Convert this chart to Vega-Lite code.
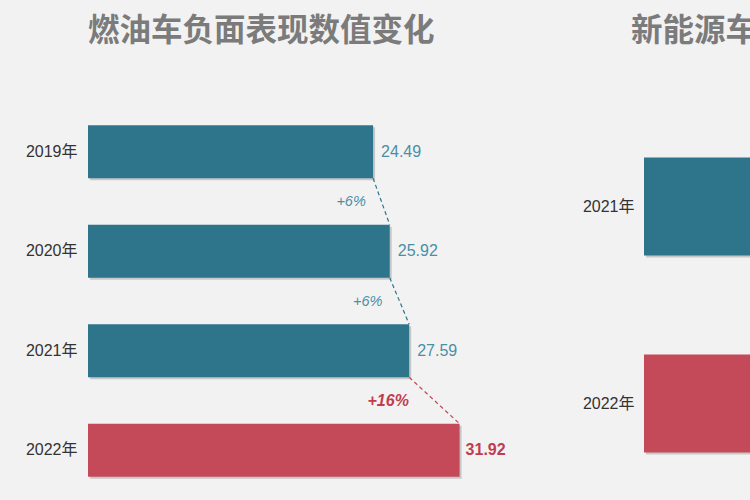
{
  "$schema": "https://vega.github.io/schema/vega-lite/v6.json",
  "background": "#f2f2f2",
  "padding": {"left": 25, "top": 15, "right": -258, "bottom": 0},
  "bounds": "flush",
  "spacing": 156,
  "config": {
    "view": {"stroke": null},
    "font": "Liberation Sans, Noto Sans CJK SC",
    "title": {"font": "Noto Sans CJK SC", "fontSize": 31.5, "fontWeight": "bold", "color": "#7b7b7b", "anchor": "start", "frame": "group", "baseline": "bottom", "offset": 55},
    "axisY": {"domain": false, "ticks": false, "grid": false, "title": null, "labelFontSize": 16, "labelColor": "#333333", "labelPadding": 11, "labelFont": "Liberation Sans, Noto Sans CJK SC"}
  },
  "datasets": {
    "gas": [
      {"year": "2019年", "value": 24.49, "type": "normal"},
      {"year": "2020年", "value": 25.92, "type": "normal"},
      {"year": "2021年", "value": 27.59, "type": "normal"},
      {"year": "2022年", "value": 31.92, "type": "highlight"}
    ],
    "changes": [
      {"from": "2019年", "to": "2020年", "fromValue": 24.49, "toValue": 25.92, "label": "+6%", "type": "normal"},
      {"from": "2020年", "to": "2021年", "fromValue": 25.92, "toValue": 27.59, "label": "+6%", "type": "normal"},
      {"from": "2021年", "to": "2022年", "fromValue": 27.59, "toValue": 31.92, "label": "+16%", "type": "highlight"}
    ],
    "nev": [
      {"year": "2021年", "value": 38.6, "type": "normal"},
      {"year": "2022年", "value": 50.3, "type": "highlight"}
    ]
  },
  "hconcat": [
    {
      "width": 400,
      "height": 398,
      "title": {"text": "燃油车负面表现数值变化"},
      "data": {"name": "gas"},
      "layer": [
        {
          "mark": {"type": "bar", "color": "#666666", "opacity": 0.3, "xOffset": 2, "yOffset": 2},
          "encoding": {
            "y": {"field": "year", "type": "nominal", "scale": {"paddingInner": 0.4673, "paddingOuter": 0.2337}},
            "x": {"field": "value", "type": "quantitative", "scale": {"domain": [0, 34.36], "nice": false}, "axis": null}
          }
        },
        {
          "mark": {"type": "bar"},
          "encoding": {
            "y": {"field": "year", "type": "nominal"},
            "x": {"field": "value", "type": "quantitative"},
            "color": {"field": "type", "type": "nominal", "scale": {"domain": ["normal", "highlight"], "range": ["#2e758c", "#c44a5a"]}, "legend": null}
          }
        },
        {
          "transform": [{"filter": "datum.type === 'normal'"}],
          "mark": {"type": "text", "align": "left", "baseline": "middle", "dx": 8, "fontSize": 16, "color": "#4a8fa6"},
          "encoding": {
            "y": {"field": "year", "type": "nominal"},
            "x": {"field": "value", "type": "quantitative"},
            "text": {"field": "value", "type": "quantitative", "format": ".2f"}
          }
        },
        {
          "transform": [{"filter": "datum.type === 'highlight'"}],
          "mark": {"type": "text", "align": "left", "baseline": "middle", "dx": 6, "fontSize": 16, "fontWeight": "bold", "color": "#c23c50"},
          "encoding": {
            "y": {"field": "year", "type": "nominal"},
            "x": {"field": "value", "type": "quantitative"},
            "text": {"field": "value", "type": "quantitative", "format": ".2f"}
          }
        },
        {
          "data": {"name": "changes"},
          "mark": {"type": "rule", "strokeDash": [4, 3], "strokeWidth": 1.2},
          "encoding": {
            "y": {"field": "from", "type": "nominal", "bandPosition": 1},
            "y2": {"field": "to", "bandPosition": 0},
            "x": {"field": "fromValue", "type": "quantitative"},
            "x2": {"field": "toValue"},
            "color": {"field": "type", "type": "nominal", "legend": null}
          }
        },
        {
          "data": {"name": "changes"},
          "transform": [{"filter": "datum.type === 'normal'"}],
          "mark": {"type": "text", "align": "center", "baseline": "middle", "dx": -22, "dy": 24, "fontSize": 14.5, "fontStyle": "italic", "color": "#4a8fa6"},
          "encoding": {
            "y": {"field": "from", "type": "nominal", "bandPosition": 1},
            "x": {"field": "fromValue", "type": "quantitative"},
            "text": {"field": "label"}
          }
        },
        {
          "data": {"name": "changes"},
          "transform": [{"filter": "datum.type === 'highlight'"}],
          "mark": {"type": "text", "align": "center", "baseline": "middle", "dx": -21, "dy": 24, "fontSize": 16, "fontStyle": "italic", "fontWeight": "bold", "color": "#c23c50"},
          "encoding": {
            "y": {"field": "from", "type": "nominal", "bandPosition": 1},
            "x": {"field": "fromValue", "type": "quantitative"},
            "text": {"field": "label"}
          }
        }
      ]
    },
    {
      "width": 107,
      "height": 398,
      "title": {"text": "新能源车负面表现数值变化", "dx": -13},
      "data": {"name": "nev"},
      "layer": [
        {
          "mark": {"type": "bar", "color": "#666666", "opacity": 0.3, "xOffset": 2, "yOffset": 2, "clip": true},
          "encoding": {
            "y": {"field": "year", "type": "nominal", "scale": {"paddingInner": 0.5025, "paddingOuter": 0.2614, "align": 0.539}, "axis": {"labelPadding": 10}},
            "x": {"field": "value", "type": "quantitative", "scale": {"domain": [0, 9.19], "nice": false}, "axis": null}
          }
        },
        {
          "mark": {"type": "bar", "clip": true},
          "encoding": {
            "y": {"field": "year", "type": "nominal"},
            "x": {"field": "value", "type": "quantitative"},
            "color": {"field": "type", "type": "nominal", "scale": {"domain": ["normal", "highlight"], "range": ["#2e758c", "#c44a5a"]}, "legend": null}
          }
        }
      ]
    }
  ]
}
